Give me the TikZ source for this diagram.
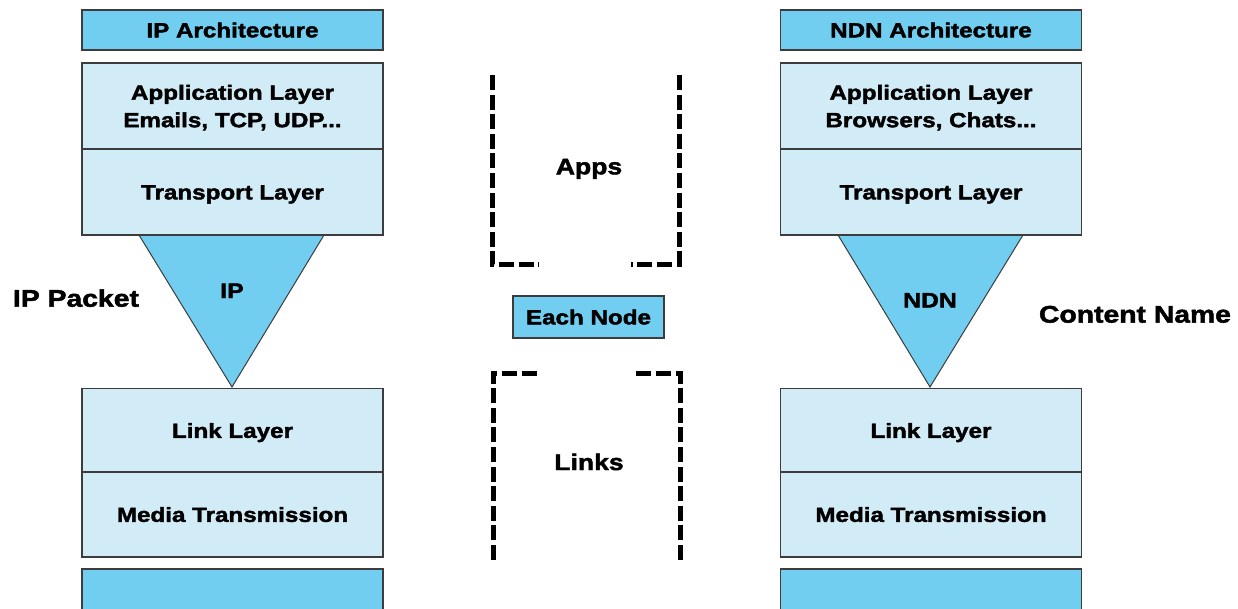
\documentclass[tikz,border=0pt]{standalone}
\usepackage{fontspec}
\setmainfont{Liberation Sans}
\newfontfamily\heavy{Liberation Sans}[FakeStretch=1.18, BoldFeatures={FakeBold=2}]
\definecolor{headblue}{HTML}{72CEF1}
\definecolor{layerblue}{HTML}{D2ECF7}
\definecolor{edgegray}{HTML}{3C3C3C}
\tikzset{
  layer/.style={draw=edgegray, line width=1.3pt, fill=layerblue, minimum width=301pt,
    inner sep=0pt, align=center, text height=14.7pt, text depth=0pt,
    font=\heavy\bfseries\fontsize{20.5}{27.5}\selectfont},
  twoline/.style={text height=, text depth=0pt},
  head/.style={layer, fill=headblue},
  funnel/.style={draw=edgegray, line width=1pt, fill=headblue, line join=miter},
  side/.style={anchor=base, inner sep=0pt, font=\heavy\bfseries\fontsize{24}{28}\selectfont},
  netlabel/.style={anchor=base, inner sep=0pt, font=\heavy\bfseries\fontsize{21}{25}\selectfont},
  midlabel/.style={anchor=base, inner sep=0pt, font=\heavy\bfseries\fontsize{22.5}{27}\selectfont},
  bracket/.style={line width=5pt, dash pattern=on 15pt off 4.6pt},
}
\begin{document}
\begin{tikzpicture}[x=1pt, y=-1pt]
\clip (0,0) rectangle (1238,608);
\fill[white] (0,0) rectangle (1238,608);

% IP stack
\coordinate (ipL) at (139,235);
\coordinate (ipR) at (324,235);
\coordinate (ipTip) at (232,387);
\draw[funnel] (ipL) -- (ipR) -- (ipTip) -- cycle;
\node[netlabel] (ipnet) at (232,298) {IP};

\node[head, minimum height=40pt] (iptitle) at (232.5,30) {IP Architecture};
\node[layer, twoline, minimum height=86pt] (ipapp) at (232.5,106) {Application Layer\\Emails, TCP, UDP...};
\node[layer, minimum height=86pt] (iptrans) at (232.5,192) {Transport Layer};
\node[layer, minimum height=84pt] (iplink) at (232.5,430.5) {Link Layer};
\node[layer, minimum height=85pt] (ipmedia) at (232.5,514.5) {Media Transmission};
\node[head, minimum height=50pt] (ipbase) at (232.5,594) {};
\node[side] (ippacket) at (76,306.7) {IP Packet};

% NDN stack
\coordinate (ndnL) at (838,235);
\coordinate (ndnR) at (1023,235);
\coordinate (ndnTip) at (930,387);
\draw[funnel] (ndnL) -- (ndnR) -- (ndnTip) -- cycle;
\node[netlabel] (ndnnet) at (930,307.5) {NDN};

\node[head, minimum height=40pt] (ndntitle) at (931,30) {NDN Architecture};
\node[layer, twoline, minimum height=86pt] (ndnapp) at (931,106) {Application Layer\\Browsers, Chats...};
\node[layer, minimum height=86pt] (ndntrans) at (931,192) {Transport Layer};
\node[layer, minimum height=84pt] (ndnlink) at (931,430.5) {Link Layer};
\node[layer, minimum height=85pt] (ndnmedia) at (931,514.5) {Media Transmission};
\node[head, minimum height=50pt] (ndnbase) at (931,594) {};
\node[side] (contentname) at (1135,322.6) {Content Name};

% middle: one node, split into apps and links
\node[head, minimum width=151pt, minimum height=42pt] (eachnode) at (588.5,317) {Each Node};
\node[midlabel] (apps) at (589,174.3) {Apps};
\node[midlabel] (links) at (589,470) {Links};

\draw[bracket] (492,75) -- (492,264) -- (539,264);
\draw[bracket] (679,75) -- (679,264) -- (631,264);
\draw[bracket] (493,560) -- (493,373) -- (541,373);
\draw[bracket] (680,560) -- (680,373) -- (633,373);
\end{tikzpicture}
\end{document}
